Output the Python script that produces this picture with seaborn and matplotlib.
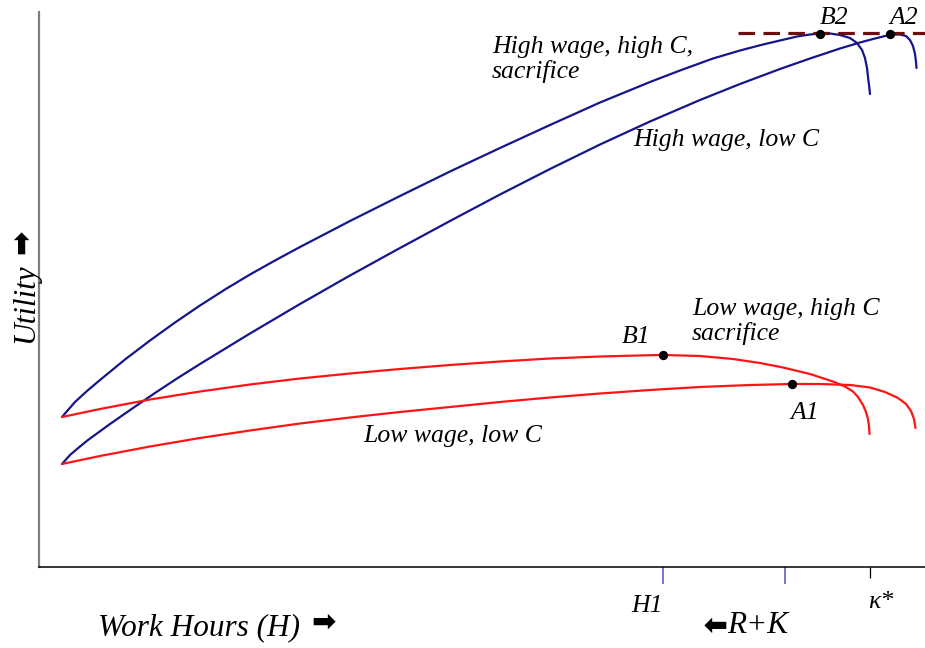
import matplotlib
matplotlib.use("Agg")
import matplotlib.pyplot as plt
import pandas as pd
import seaborn as sns

# ---------------- data ----------------
# High wage, high C sacrifice (blue, upper)
hw_hc_hours = [23, 29, 36, 48, 61, 86, 111, 136, 161, 186, 211, 236, 261, 311, 361, 411,
               461, 511, 561, 611, 641, 674, 701, 724, 741, 758, 771, 781, 791, 801, 811,
               818, 823, 826, 828, 829, 830, 831]
hw_hc_util = [150, 157, 165, 176, 187, 207.5, 226.5, 244.5, 261.5, 277.5, 292.5, 306.5, 320,
              346, 371, 395.5, 419, 442, 464.5, 485, 496.5, 508.5, 516.5, 522.5, 526.5, 530.5,
              532.5, 533.5, 533.5, 532, 529, 524, 517, 509, 499, 490, 482, 473]

# High wage, low C (blue, lower)
hw_lc_hours = [23, 31, 41, 49, 71, 94, 116, 138, 161, 211, 261, 311, 361, 411, 461, 511,
               561, 611, 661, 701, 741, 771, 801, 821, 836, 846, 856, 861, 867, 871, 874,
               876, 877, 877.5]
hw_lc_util = [103, 112, 120.5, 127, 143, 159, 174, 188.5, 203, 233.5, 263, 291.5, 319, 346,
              372.5, 398, 422.5, 445.5, 467, 483, 498, 508.5, 518.5, 524.5, 528.5, 531,
              532.5, 532.5, 531, 527, 521, 513, 505, 499]

# Low wage, high C sacrifice (red, upper)
lw_hc_hours = [23, 61, 111, 161, 211, 261, 311, 361, 411, 461, 511, 561, 611, 624, 661, 694,
               721, 744, 771, 794, 806, 814, 819, 824, 827, 829, 830, 830.5]
lw_hc_util = [150, 158, 167.5, 175.5, 182.5, 188.5, 193.5, 198, 202, 205.5, 208.5, 210.5,
              211.8, 212, 211, 208, 204, 199.5, 193, 185.5, 180.5, 175.5, 170, 162, 155,
              148, 141, 133]

# Low wage, low C (red, lower)
lw_lc_hours = [23, 61, 111, 161, 211, 261, 311, 361, 411, 461, 511, 561, 611, 661, 711, 753,
               781, 811, 831, 846, 859, 867, 872, 875, 876.5]
lw_lc_util = [103, 111, 120.5, 129, 136.5, 143.5, 149.5, 155, 160, 165, 169.5, 173.5, 177,
              180, 182, 183, 183, 182, 179.5, 175, 169, 163, 156, 148, 139]

curve_names = ["High wage, high C sacrifice", "High wage, low C",
               "Low wage, high C sacrifice", "Low wage, low C"]

# optimum points
point_names = ["B2", "A2", "B1", "A1"]
point_hours = [781, 851, 624, 753]
point_util = [533, 533, 212, 183]

# x-axis ticks
tick_hours = [624, 746, 831]
tick_labels = ["H1", "", "κ*"]

# tangent (max utility) dashed line
tangent_util = 534.5
tangent_from = 699

# ---------------- styling ----------------
sns.set_style("white")
plt.rcParams["font.family"] = ["Liberation Serif", "DejaVu Sans"]

BLUE = "#15158c"
RED = "#ff1414"
TICKBLUE = "#5c5cc4"

fig = plt.figure(figsize=(9.25, 6.48), dpi=100)
ax = fig.add_axes([39 / 925, 81 / 648, 886 / 925, 555 / 648])

frames = []
for name, h, u in [(curve_names[0], hw_hc_hours, hw_hc_util),
                   (curve_names[1], hw_lc_hours, hw_lc_util),
                   (curve_names[2], lw_hc_hours, lw_hc_util),
                   (curve_names[3], lw_lc_hours, lw_lc_util)]:
    frames.append(pd.DataFrame({"hours": h, "utility": u, "curve": name}))
df = pd.concat(frames, ignore_index=True)

palette = {curve_names[0]: BLUE, curve_names[1]: BLUE,
           curve_names[2]: RED, curve_names[3]: RED}
sns.lineplot(data=df, x="hours", y="utility", hue="curve", palette=palette,
             sort=False, estimator=None, legend=False, linewidth=1.6, ax=ax)
for ln in ax.get_lines():
    ln.set_solid_joinstyle("round")

# dashed tangent line
ax.plot([tangent_from, 886], [tangent_util, tangent_util], color="#6e0f0f",
        linewidth=2.3, linestyle=(0, (5.2, 2.6)), zorder=3, solid_capstyle="butt")

pts = pd.DataFrame({"hours": point_hours, "utility": point_util, "name": point_names})
sns.scatterplot(data=pts, x="hours", y="utility", color="black", s=45,
                edgecolor="black", linewidth=0, zorder=5, ax=ax, legend=False)

ax.set_xlim(0, 886)
ax.set_ylim(0, 555)
ax.set_xlabel("")
ax.set_ylabel("")
ax.set_yticks([])
ax.set_xticks(tick_hours)
ax.set_xticklabels(["" for _ in tick_labels])
ax.tick_params(axis="x", which="major", bottom=True, direction="out", length=12,
               width=1.2, color=TICKBLUE, pad=0)
ticks = ax.xaxis.get_major_ticks()
ticks[2].tick1line.set_markeredgecolor("black")
ticks[2].tick1line.set_markersize(8)
ticks[2].tick1line.set_markeredgewidth(0.9)

for s in ["top", "right"]:
    ax.spines[s].set_visible(False)
ax.spines["left"].set_color("#7f7f7f")
ax.spines["left"].set_linewidth(1.6)
ax.spines["bottom"].set_color("black")
ax.spines["bottom"].set_linewidth(1.1)

SM = 18.5
BIG = 22.5
tkw = dict(fontstyle="italic", color="black", clip_on=False)
akw = dict(ha="center", va="center", fontsize=21, family="DejaVu Sans",
           fontweight="bold", color="black", clip_on=False)

# point labels
ax.text(795, 543, "B2", ha="center", va="baseline", fontsize=SM, **tkw)
ax.text(865, 543, "A2", ha="center", va="baseline", fontsize=SM, **tkw)
ax.text(597, 224, "B1", ha="center", va="baseline", fontsize=SM, **tkw)
ax.text(766, 148, "A1", ha="center", va="baseline", fontsize=SM, **tkw)

# curve labels
ax.text(453, 514, "High wage, high C,", ha="left", va="baseline", fontsize=SM, **tkw)
ax.text(453, 489, "sacrifice", ha="left", va="baseline", fontsize=SM, **tkw)
ax.text(594, 421, "High wage, low C", ha="left", va="baseline", fontsize=SM, **tkw)
ax.text(653, 252, "Low wage, high C", ha="left", va="baseline", fontsize=SM, **tkw)
ax.text(653, 227, "sacrifice", ha="left", va="baseline", fontsize=SM, **tkw)
ax.text(324, 125, "Low wage, low C", ha="left", va="baseline", fontsize=SM, **tkw)

# tick labels
ax.text(608, -45, tick_labels[0], ha="center", va="baseline", fontsize=SM, **tkw)
ax.text(829, -41, tick_labels[2], ha="left", va="baseline", fontsize=SM, **tkw)

# axis labels
ax.text(59, -68, "Work Hours (H)", ha="left", va="baseline", fontsize=BIG, **tkw)
ax.text(285, -56, "➡", **akw)
ax.text(688, -66, "R+K", ha="left", va="baseline", fontsize=BIG, **tkw)
ax.text(674, -55, "➡", rotation=180, **akw)
ax.text(-6, 224, "Utility", ha="left", va="baseline", rotation=90, rotation_mode="anchor",
        fontsize=BIG, **tkw)
ax.text(-17, 325, "➡", rotation=90, **akw)

fig.savefig("out.png", dpi=100)
